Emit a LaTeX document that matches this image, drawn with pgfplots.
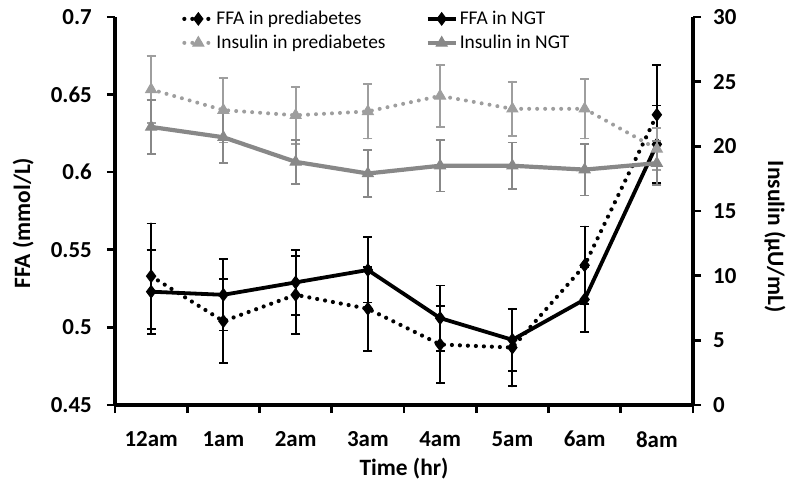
\documentclass[border=0pt]{standalone}
\usepackage{fontspec}
\setmainfont{Carlito}
\usepackage{pgfplots}
\usepackage{pgfplotstable}
\pgfplotsset{compat=1.18}

\definecolor{insngt}{HTML}{888888}
\definecolor{inspre}{HTML}{9E9E9E}

% x = time slot, y = mean, e = error
\pgfplotstableread{
x y e
0 0.533 0.034
1 0.504 0.027
2 0.521 0.025
3 0.512 0.027
4 0.489 0.025
5 0.487 0.025
6 0.540 0.025
7 0.637 0.032
}\ffapre
\pgfplotstableread{
x y e
0 0.523 0.027
1 0.521 0.023
2 0.529 0.021
3 0.537 0.021
4 0.506 0.021
5 0.492 0.020
6 0.518 0.021
7 0.618 0.025
}\ffangt
\pgfplotstableread{
x y e
0 24.4 2.6
1 22.8 2.5
2 22.4 2.2
3 22.7 2.1
4 23.9 2.4
5 22.9 2.1
6 22.9 2.3
7 19.8 1.6
}\inspre
\pgfplotstableread{
x y e
0 21.5 2.1
1 20.7 2.0
2 18.8 1.7
3 17.9 1.8
4 18.5 2.0
5 18.5 1.8
6 18.2 2.0
7 18.7 1.7
}\insngt

\pgfplotsset{
  base/.style={
    scale only axis, width=578bp, height=388bp,
    at={(0,0)}, anchor=south west,
    xmin=-0.5, xmax=7.5,
    clip=false,
    axis line style={line width=3.4bp, black},
    tick style={line width=2.6bp, black},
    tick align=outside,
    major tick length=8bp,
    ticklabel style={font=\fontsize{23}{24}\selectfont\bfseries},
    label style={font=\fontsize{23.5}{25}\selectfont\bfseries},
    /pgf/number format/assume math mode=true,
  },
  ebar/.style={
    error bars/.cd, y dir=both, y explicit,
    error bar style={line width=1.8bp, solid, #1},
    error mark options={line width=1.8bp, solid, mark size=4.5bp, rotate=90, #1},
  },
  legend image code/.code={
    \draw[mark repeat=2, mark phase=2, #1]
      plot coordinates {(0bp,0bp) (14bp,0bp) (28bp,0bp)};
  },
}

\begin{document}
\begin{tikzpicture}
\path[use as bounding box] (-115bp,-84bp) rectangle (676bp,405bp);

\begin{axis}[base,
  axis x line*=bottom, axis y line*=left,
  ymin=0.45, ymax=0.7,
  ytick={0.45,0.5,0.55,0.6,0.65,0.7},
  yticklabels={0.45,0.5,0.55,0.6,0.65,0.7},
  xtick={0,...,7},
  xticklabels={12am,1am,2am,3am,4am,5am,6am,8am},
  major x tick style={draw=none},
  minor xtick={-0.5,0.5,...,7.5},
  minor tick length=8bp,
  minor x tick style={line width=2.6bp, black},
  yticklabel style={anchor=east, inner sep=0pt, xshift=-15bp},
  xticklabel style={anchor=north, inner sep=0pt, yshift=-18bp},
  ylabel={FFA (mmol/L)},
  ylabel style={at={(axis description cs:-0.159,0.469)}, anchor=center},
  xlabel={Time (hr)},
  xlabel style={at={(axis description cs:0.5,-0.165)}, anchor=center},
]
\addplot[black, line width=4.2bp, line cap=round,
  dash pattern=on 0pt off 8bp,
  mark=diamond*, mark size=6.2bp, mark options={solid, line width=1pt},
  ebar=black] table[x=x, y=y, y error=e] {\ffapre};
\addplot[black, line width=3.8bp,
  mark=diamond*, mark size=6.2bp, mark options={line width=1pt},
  ebar=black] table[x=x, y=y, y error=e] {\ffangt};
\end{axis}

\begin{axis}[base,
  axis x line=none, axis y line*=right,
  ymin=0, ymax=30,
  ytick={0,5,...,30},
  yticklabel style={anchor=west, inner sep=0pt, xshift=12bp},
  ylabel={Insulin (µU/mL)},
  ylabel style={at={(axis description cs:1.142,0.433)}, anchor=center, rotate=180},
  legend columns=2,
  legend cell align=left,
  legend style={draw=none, fill=none, inner sep=0pt,
    at={(axis description cs:0.116,1.02)}, anchor=north west,
    font=\fontsize{19.5}{21}\selectfont,
    /tikz/every even column/.append style={column sep=38bp},
    row sep=5bp},
]
\addlegendimage{black, line width=4.2bp, line cap=round,
  dash pattern=on 0pt off 8bp, mark=diamond*, mark size=6.2bp,
  mark options={solid, line width=1pt}}
\addlegendentry{FFA in prediabetes}
\addlegendimage{black, line width=3.8bp, mark=diamond*, mark size=6.2bp,
  mark options={line width=1pt}}
\addlegendentry{FFA in NGT}
\addplot[inspre, line width=4bp, line cap=round,
  dash pattern=on 0pt off 8bp,
  mark=triangle*, mark size=6.3bp, mark options={solid, line width=1pt},
  ebar=inspre] table[x=x, y=y, y error=e] {\inspre};
\addlegendentry{Insulin in prediabetes}
\addplot[insngt, line width=4.2bp,
  mark=triangle*, mark size=6.3bp, mark options={line width=1pt},
  ebar=insngt] table[x=x, y=y, y error=e] {\insngt};
\addlegendentry{Insulin in NGT}
\end{axis}
\end{tikzpicture}
\end{document}
